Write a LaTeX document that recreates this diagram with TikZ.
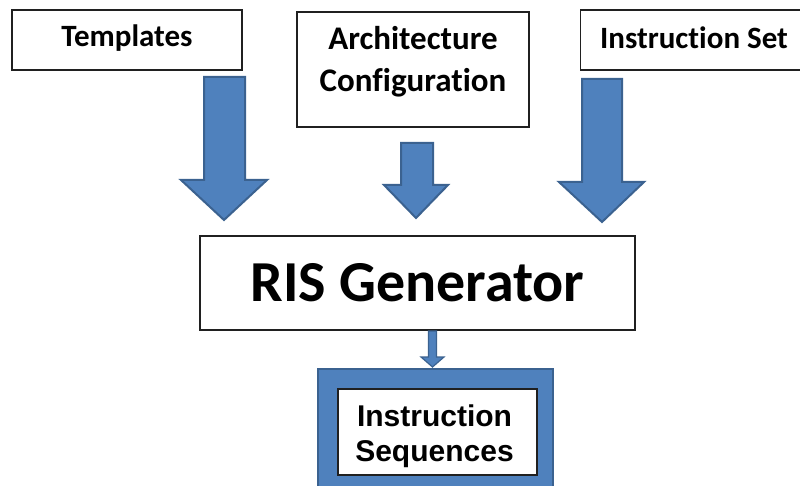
\documentclass[tikz,border=0pt]{standalone}
\usepackage{fontspec}
\newfontfamily\boxfont{Carlito}[BoldFont={Carlito Bold}, Ligatures={NoCommon}]
\newfontfamily\seqfont{Liberation Sans}
\definecolor{arrowblue}{HTML}{4F81BD}
\definecolor{arrowedge}{HTML}{3B6290}
\definecolor{boxedge}{HTML}{202020}
\tikzset{
  inbox/.style={draw=boxedge, line width=1.2pt, fill=white, inner sep=0pt, align=center},
  blockarrow/.style={fill=arrowblue, draw=arrowedge, line width=2pt, line join=miter},
  toplabel/.style={font=\boxfont\bfseries\fontsize{31}{40}\selectfont, align=center},
}
\begin{document}
\begin{tikzpicture}[x=1pt, y=-1pt]
  \clip (0,0) rectangle (800,486);
  \fill[white] (0,0) rectangle (800,486);

  % input boxes
  \node[inbox, minimum width=230pt, minimum height=60pt] (tpl) at (127,40) {};
  \node[toplabel] at (127,38) {Templates};
  \node[inbox, minimum width=232pt, minimum height=115pt] (arch) at (413,69.5) {};
  \node[toplabel, font=\boxfont\bfseries\fontsize{33}{42}\selectfont] at (413,62) {Architecture\\Configuration};
  \node[inbox, minimum width=240pt, minimum height=60pt, anchor=west] (iset) at (580,40) {};
  \node[toplabel] at (694,38) {Instruction Set};

  % generator
  \node[inbox, minimum width=435pt, minimum height=94pt, font=\boxfont\bfseries\fontsize{58}{60}\selectfont]
    (ris) at (417.5,283) {RIS Generator};

  % output frame
  \fill[arrowblue, draw=arrowedge, line width=2pt] (318,369) rectangle (553,500);
  \draw[arrowedge!80!black, line width=2.5pt] (338,389) rectangle (537,475);
  \node[inbox, minimum width=199pt, minimum height=86pt] (seq) at (437.5,432) {};
  \begin{scope}
    \clip (338,389) rectangle (537,475);
    \node[font=\seqfont\bfseries\fontsize{30}{35}\selectfont, align=center]
      at (434.5,436) {Instruction\\Sequences};
  \end{scope}
  \draw[boxedge, line width=1.2pt] (338,389) rectangle (537,475);

  % block arrows feeding the generator
  \draw[blockarrow] (204,77) -- (245,77) -- (245,180) -- (267,180) -- (224,220)
    -- (181,180) -- (204,180) -- cycle;
  \draw[blockarrow] (401,143) -- (433,143) -- (433,185) -- (448,185) -- (416,218)
    -- (384,185) -- (401,185) -- cycle;
  \draw[blockarrow] (582,79) -- (622,79) -- (622,182) -- (644,182) -- (602,222)
    -- (559,182) -- (582,182) -- cycle;
  % generator to output
  \draw[blockarrow, line width=1.2pt] (428.5,331) -- (436.5,331) -- (436.5,357) -- (444,357)
    -- (432.5,367) -- (421,357) -- (428.5,357) -- cycle;
\end{tikzpicture}
\end{document}
